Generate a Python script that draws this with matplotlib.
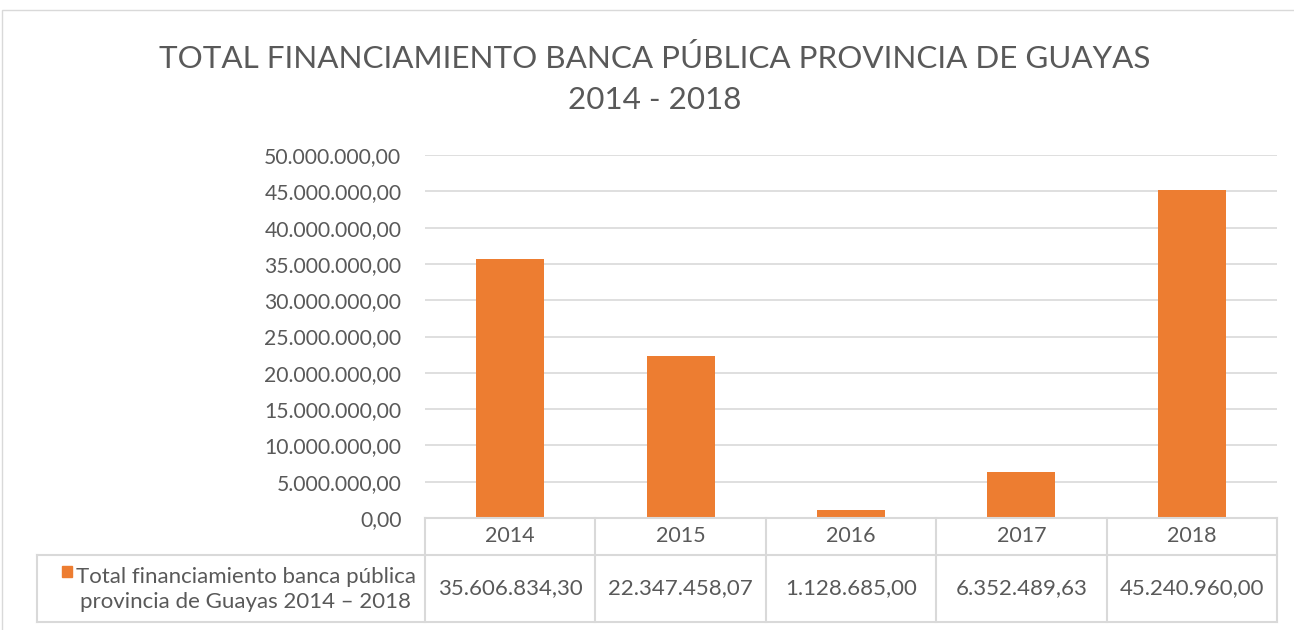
import matplotlib
matplotlib.use("Agg")
import matplotlib.pyplot as plt
from matplotlib.patches import Rectangle

plt.rcParams['font.family'] = ['Lato', 'DejaVu Sans']

# datos
years = ["2014", "2015", "2016", "2017", "2018"]
values = [35606834.30, 22347458.07, 1128685.00, 6352489.63, 45240960.00]
series_name = "Total financiamiento banca pública\nprovincia de Guayas 2014 – 2018"
title = "TOTAL FINANCIAMIENTO BANCA PÚBLICA PROVINCIA DE GUAYAS\n2014 - 2018"
yticks = list(range(0, 50000001, 5000000))

ORANGE = "#ED7D31"
GRID = "#D9D9D9"
TXT = "#595959"


def fmt(v):
    s = f"{v:,.2f}"
    return s.replace(",", "X").replace(".", ",").replace("X", ".")


W, H = 1294, 630
fig = plt.figure(figsize=(W / 100, H / 100), dpi=100)

# borde del gráfico
fig.add_artist(Rectangle((2 / W, -0.1), 1.2, 1 - 10 / H + 0.1, transform=fig.transFigure,
                         fill=False, edgecolor=GRID, lw=1))

fig.text(655 / W, 1 - 79 / H, title, ha="center", va="center", fontsize=22.6,
         color=TXT, linespacing=1.55)

left, right = 425 / W, 1277 / W
ax = fig.add_axes([left, 1 - 518 / H, right - left, (518 - 155) / H])
x = range(len(years))
ax.bar(x, values, width=0.4, color=ORANGE, zorder=3)
ax.set_xlim(-0.5, len(years) - 0.5)
ax.set_ylim(0, 50000000)
ax.set_yticks(yticks)
ax.set_yticklabels([fmt(t) for t in yticks], fontsize=15.2, color=TXT)
ax.set_xticks([])
ax.tick_params(axis="y", length=0, pad=17)
ax.grid(axis="y", color=GRID, lw=1.2, zorder=0)
for s in ax.spines.values():
    s.set_visible(False)

# tabla de datos
tb = fig.add_axes([left, 1 - 622 / H, right - left, (622 - 518) / H])
tb.set_xlim(-0.5, len(years) - 0.5)
tb.set_ylim(0, 104)
tb.axis("off")
mid = 67
leg_left = -0.5 - (425 - 37) / 170.4
tb.plot([-0.5, len(years) - 0.5], [104, 104], color=GRID, lw=1.5, clip_on=False)
tb.plot([leg_left, len(years) - 0.5], [mid, mid], color=GRID, lw=1.5, clip_on=False)
tb.plot([leg_left, len(years) - 0.5], [0, 0], color=GRID, lw=1.5, clip_on=False)
tb.plot([leg_left, leg_left], [0, mid], color=GRID, lw=1.5, clip_on=False)
for i in range(len(years) + 1):
    tb.plot([i - 0.5, i - 0.5], [0, 104], color=GRID, lw=1.5, clip_on=False)
for i, (yr, v) in enumerate(zip(years, values)):
    tb.text(i, (104 + mid) / 2, yr, ha="center", va="center", fontsize=15.5, color=TXT)
    tb.text(i, mid / 2, fmt(v), ha="center", va="center", fontsize=16, color=TXT)

mk_x = leg_left + (62 - 37) / 170.4
tb.add_patch(Rectangle((mk_x, 45), 10 / 170.4, 11, color=ORANGE, clip_on=False))
tb.text(leg_left + (246 - 37) / 170.4, mid / 2 - 1, series_name, ha="center", va="center",
        fontsize=16, color=TXT, linespacing=1.3, clip_on=False)

fig.savefig("out.png", dpi=100)
